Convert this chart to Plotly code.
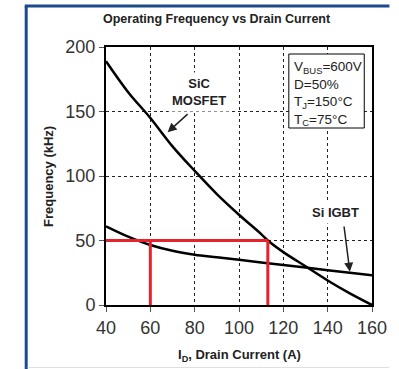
import plotly.graph_objects as go

# Data
current_sic = [40, 50, 60, 70, 80, 90, 100, 110, 113, 120, 130, 140, 150, 160]
freq_sic = [189, 165, 145, 123, 104, 86, 70, 55, 50, 41, 30, 19, 9, 0]
current_igbt = [40, 50, 60, 70, 80, 90, 100, 110, 120, 130, 140, 150, 160]
freq_igbt = [61, 53, 46.5, 42, 39, 37, 35, 33, 31, 29, 27, 25, 23]
target_freq = 50
igbt_current_at_target = 60
sic_current_at_target = 113
x_ticks = [40, 60, 80, 100, 120, 140, 160]
y_ticks = [0, 50, 100, 150, 200]

FONT = "Arial, Liberation Sans, Helvetica, sans-serif"
RED = "#e8222c"

fig = go.Figure()
fig.add_trace(go.Scatter(x=current_sic, y=freq_sic, mode="lines",
                         line=dict(color="black", width=2.5, shape="spline"),
                         hoverinfo="skip", showlegend=False))
fig.add_trace(go.Scatter(x=current_igbt, y=freq_igbt, mode="lines",
                         line=dict(color="black", width=2.5, shape="spline"),
                         hoverinfo="skip", showlegend=False))
# red guide lines
fig.add_trace(go.Scatter(x=[x_ticks[0], sic_current_at_target], y=[target_freq, target_freq],
                         mode="lines", line=dict(color=RED, width=3), showlegend=False))
for c in (igbt_current_at_target, sic_current_at_target):
    fig.add_trace(go.Scatter(x=[c, c], y=[0, target_freq], mode="lines",
                             line=dict(color=RED, width=3), showlegend=False))

L, R, T, B = 106, 18, 47, 64
W, H = 399, 369
pw, ph = W - L - R, H - T - B


def px(xp):
    return (xp - L) / pw


def py(yp):
    return (H - B - yp) / ph


fig.update_layout(
    width=W, height=H,
    margin=dict(l=L, r=R, t=T, b=B),
    paper_bgcolor="white", plot_bgcolor="white",
    font=dict(family=FONT, color="#333333"),
    showlegend=False,
    xaxis=dict(range=[40, 160], tickvals=x_ticks, ticks="outside", ticklen=5,
               tickcolor="#555555", tickfont=dict(size=18, color="#333333"),
               showline=True, linecolor="black", linewidth=2, mirror=True,
               showgrid=True, gridcolor="#222222", gridwidth=1, griddash="dot",
               zeroline=False),
    yaxis=dict(range=[0, 200], tickvals=y_ticks, ticks="outside", ticklen=5,
               tickcolor="#555555", tickfont=dict(size=18, color="#333333"),
               showline=True, linecolor="black", linewidth=2, mirror=True,
               showgrid=True, gridcolor="#222222", gridwidth=1, griddash="dot",
               zeroline=False),
)

TXT = dict(xref="paper", yref="paper", showarrow=False, xanchor="center", yanchor="middle")
annotations = [
    dict(text="<b>Operating Frequency vs Drain Current</b>", x=px(221), y=py(19),
         font=dict(size=12.5, color="#222222"), **TXT),
    dict(text="<b>Frequency (kHz)</b>", x=px(46), y=0.5, textangle=-90,
         font=dict(size=13, color="#222222"), **TXT),
    dict(text="<b>I<sub>D</sub>, Drain Current (A)</b>", x=px(244), y=py(355),
         font=dict(size=13, color="#222222"), **TXT),
    dict(text="<b>SiC<br>MOSFET</b>", x=px(202), y=py(92), bgcolor="white", borderpad=3,
         font=dict(size=13, color="#222222"), **TXT),
    dict(text="<b>Si IGBT</b>", x=px(343), y=py(212), bgcolor="white", borderpad=3,
         font=dict(size=13, color="#222222"), **TXT),
    dict(x=67.8, y=134, ax=77.5, ay=149, xref="x", yref="y", axref="x", ayref="y",
         text="", showarrow=True, arrowhead=2, arrowsize=1.2, arrowwidth=1.5, arrowcolor="#222222"),
    dict(x=150, y=25.8, ax=147.3, ay=62, xref="x", yref="y", axref="x", ayref="y",
         text="", showarrow=True, arrowhead=2, arrowsize=1.2, arrowwidth=1.5, arrowcolor="#222222"),
    dict(text="V<sub>BUS</sub>=600V<br>D=50%<br>T<sub>J</sub>=150°C<br>T<sub>C</sub>=75°C",
         x=px(298), y=py(57), xanchor="left", yanchor="top", align="left",
         xref="paper", yref="paper", showarrow=False,
         font=dict(size=13.5, color="#222222")),
]
fig.update_layout(annotations=annotations)

shapes = [
    dict(type="rect", xref="paper", yref="paper", x0=px(295), x1=px(373), y0=py(128), y1=py(54),
         line=dict(color="black", width=1), fillcolor="white", layer="above"),
    dict(type="line", xref="paper", yref="paper", x0=px(23.5), x1=px(23.5), y0=py(6), y1=py(369),
         line=dict(color="#1f4a8a", width=3)),
    dict(type="line", xref="paper", yref="paper", x0=px(22), x1=px(399), y0=py(6), y1=py(6),
         line=dict(color="#1f4a8a", width=3)),
    dict(type="line", xref="paper", yref="paper", x0=px(25), x1=px(399), y0=py(367.5), y1=py(367.5),
         line=dict(color="#e0e0e0", width=1)),
]
fig.update_layout(shapes=shapes)

fig.write_html("out.html")
